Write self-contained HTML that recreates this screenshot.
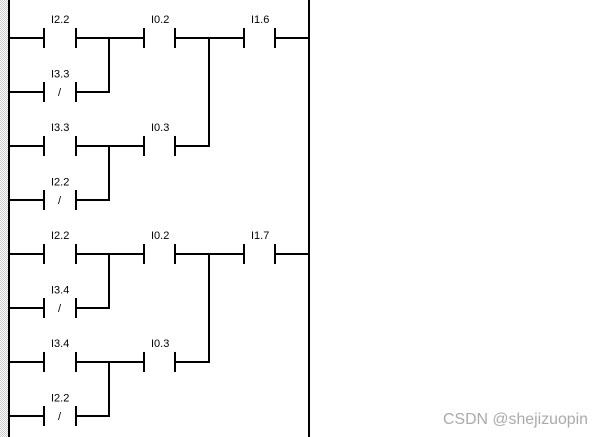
<!DOCTYPE html>
<html>
<head>
<meta charset="utf-8">
<style>
html,body{margin:0;padding:0;background:#fff;width:602px;height:437px;overflow:hidden}
svg{display:block}
text{font-family:"Liberation Sans",sans-serif;font-size:11px;fill:#000}
.w{font-size:16px;fill:#aaa}
</style>
</head>
<body>
<svg width="602" height="437" viewBox="0 0 602 437" xmlns="http://www.w3.org/2000/svg">
<g stroke="#ccc" stroke-width="1" stroke-dasharray="1 1" shape-rendering="crispEdges" fill="none">
<path d="M0.5 0V437M2.5 0V437M4.5 0V437M6.5 0V437"/>
<path stroke-dashoffset="1" d="M1.5 0V437M3.5 0V437M5.5 0V437M7.5 0V437"/>
</g>
<g fill="#000" shape-rendering="crispEdges">
<rect x="8" y="0" width="2" height="437"/>
<rect x="308" y="0" width="2" height="437"/>

<!-- Network 1 -->
<rect x="10" y="37" width="34" height="2"/><rect x="43" y="28" width="2" height="20"/><rect x="75" y="28" width="2" height="20"/>
<rect x="76" y="37" width="68" height="2"/><rect x="143" y="28" width="2" height="20"/><rect x="174" y="28" width="2" height="20"/>
<rect x="175" y="37" width="69" height="2"/><rect x="243" y="28" width="2" height="20"/><rect x="274" y="28" width="2" height="20"/>
<rect x="275" y="37" width="34" height="2"/>
<rect x="10" y="91" width="34" height="2"/><rect x="43" y="82" width="2" height="20"/><rect x="75" y="82" width="2" height="20"/>
<rect x="76" y="91" width="34" height="2"/><rect x="108" y="37" width="2" height="56"/>
<rect x="10" y="145" width="34" height="2"/><rect x="43" y="136" width="2" height="20"/><rect x="75" y="136" width="2" height="20"/>
<rect x="76" y="145" width="68" height="2"/><rect x="143" y="136" width="2" height="20"/><rect x="174" y="136" width="2" height="20"/>
<rect x="175" y="145" width="35" height="2"/><rect x="208" y="37" width="2" height="110"/>
<rect x="10" y="199" width="34" height="2"/><rect x="43" y="190" width="2" height="20"/><rect x="75" y="190" width="2" height="20"/>
<rect x="76" y="199" width="34" height="2"/><rect x="108" y="145" width="2" height="56"/>

<!-- Network 2 -->
<rect x="10" y="253" width="34" height="2"/><rect x="43" y="244" width="2" height="20"/><rect x="75" y="244" width="2" height="20"/>
<rect x="76" y="253" width="68" height="2"/><rect x="143" y="244" width="2" height="20"/><rect x="174" y="244" width="2" height="20"/>
<rect x="175" y="253" width="69" height="2"/><rect x="243" y="244" width="2" height="20"/><rect x="274" y="244" width="2" height="20"/>
<rect x="275" y="253" width="34" height="2"/>
<rect x="10" y="307" width="34" height="2"/><rect x="43" y="298" width="2" height="20"/><rect x="75" y="298" width="2" height="20"/>
<rect x="76" y="307" width="34" height="2"/><rect x="108" y="253" width="2" height="56"/>
<rect x="10" y="361" width="34" height="2"/><rect x="43" y="352" width="2" height="20"/><rect x="75" y="352" width="2" height="20"/>
<rect x="76" y="361" width="68" height="2"/><rect x="143" y="352" width="2" height="20"/><rect x="174" y="352" width="2" height="20"/>
<rect x="175" y="361" width="35" height="2"/><rect x="208" y="253" width="2" height="110"/>
<rect x="10" y="415" width="34" height="2"/><rect x="43" y="406" width="2" height="20"/><rect x="75" y="406" width="2" height="20"/>
<rect x="76" y="415" width="34" height="2"/><rect x="108" y="361" width="2" height="56"/>
</g>

<text x="51" y="23">I2.2</text>
<text x="151" y="23">I0.2</text>
<text x="251" y="23">I1.6</text>
<text x="51" y="77.5">I3.3</text>
<text x="58" y="96">/</text>
<text x="51" y="131">I3.3</text>
<text x="151" y="131">I0.3</text>
<text x="51" y="185.5">I2.2</text>
<text x="58" y="204">/</text>
<text x="51" y="239">I2.2</text>
<text x="151" y="239">I0.2</text>
<text x="251" y="239">I1.7</text>
<text x="51" y="293.5">I3.4</text>
<text x="58" y="312">/</text>
<text x="51" y="347">I3.4</text>
<text x="151" y="347">I0.3</text>
<text x="51" y="401.5">I2.2</text>
<text x="58" y="420">/</text>

<text class="w" x="443" y="424" textLength="145" lengthAdjust="spacingAndGlyphs">CSDN @shejizuopin</text>
</svg>
</body>
</html>
